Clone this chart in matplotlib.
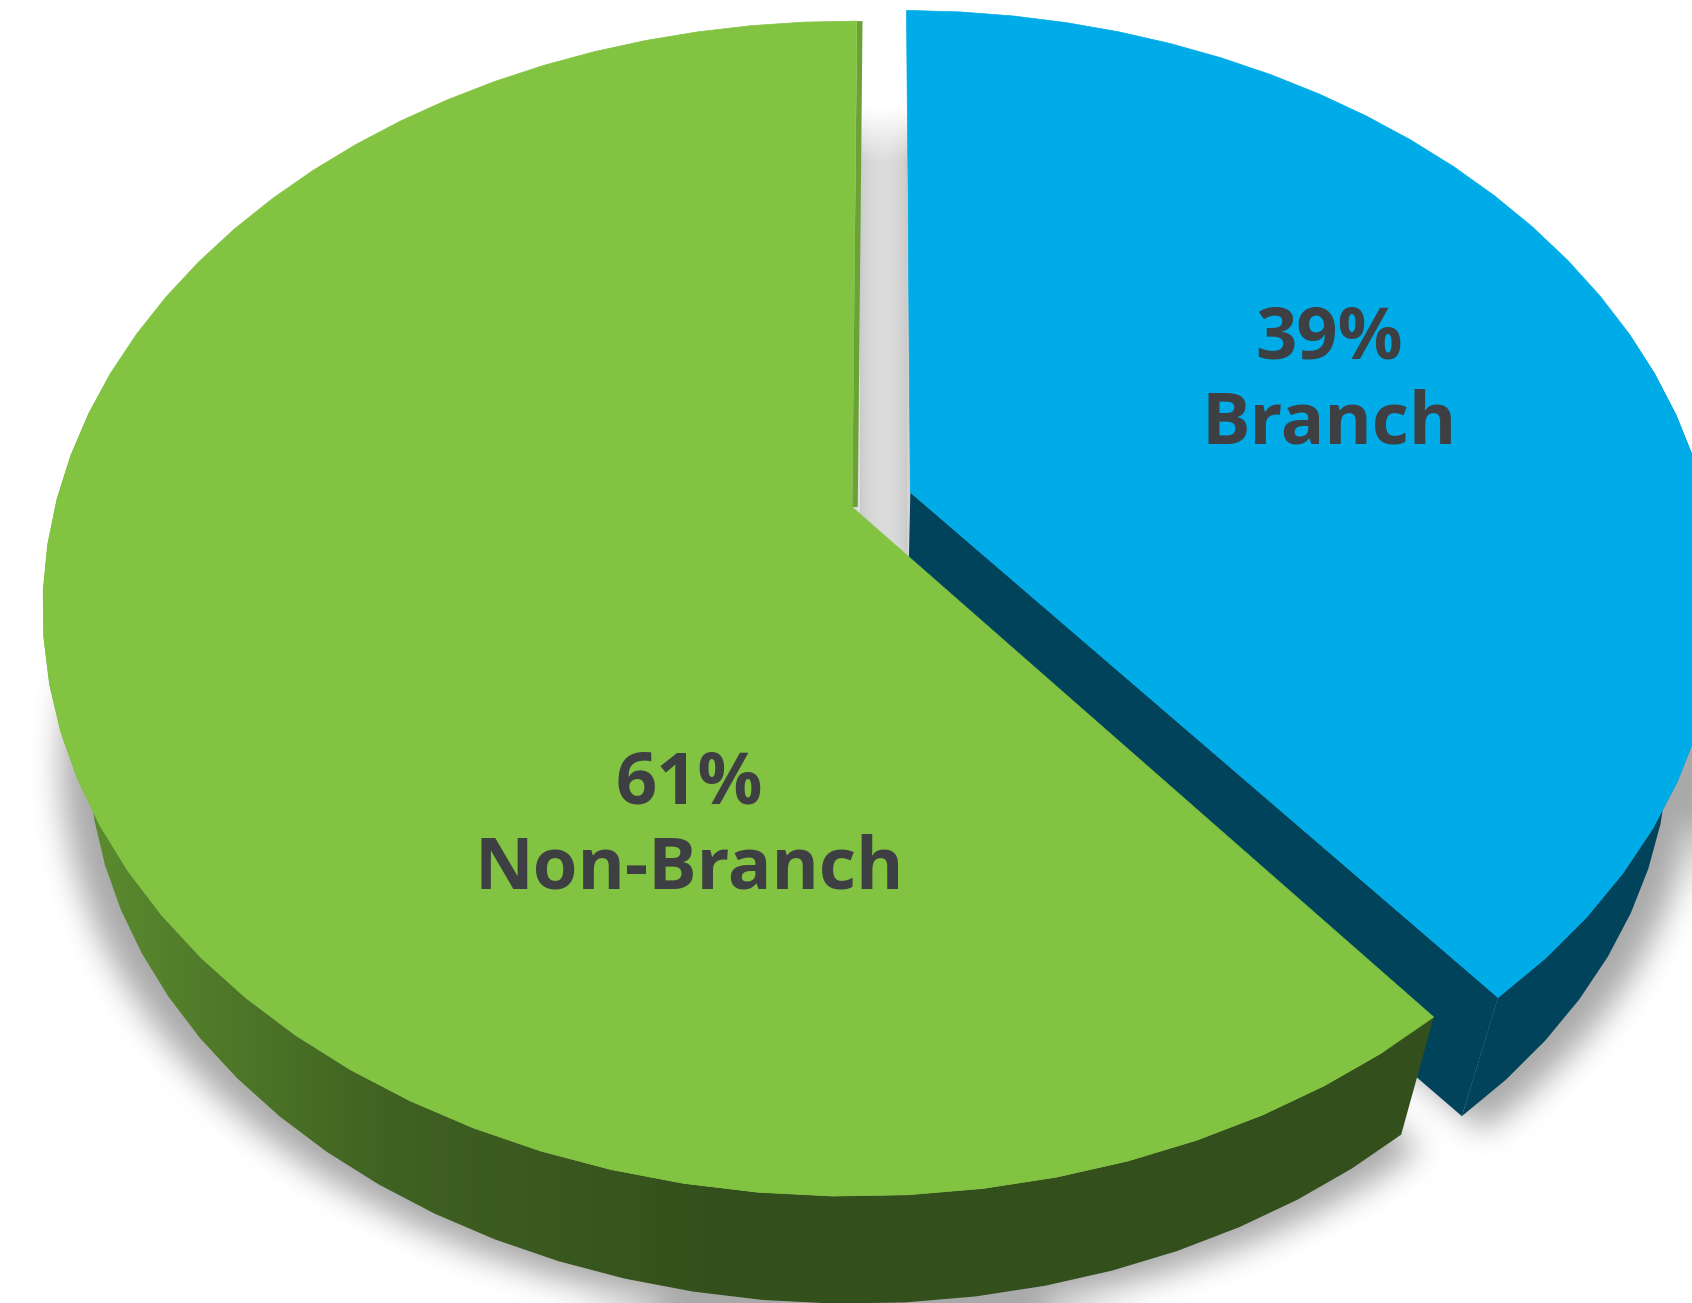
import numpy as np
import matplotlib

matplotlib.use("Agg")
import matplotlib.pyplot as plt
from matplotlib.colors import LinearSegmentedColormap
from matplotlib.patches import Polygon
from matplotlib.path import Path

# data
labels = ["Non-Branch", "Branch"]
shares = [61, 39]
explode = [0.0, 0.078]

# styling
top_colors = ["#82c341", "#00ace7"]
wall_colors = ["#334f1c", "#00435a"]
wall_light = "#5e8f30"
edge_green = "#6aa236"
text_color = "#3e3f42"
start_angle = 89.6
facet_deg = 4.5
label_r = 0.57
label_angles = [251.0, 17.0]

W, H = 1692, 1303
CX, CY = 852.0, 507.0           # projected pie centre (px)
AX_, AY_, K = 797.0, 570.0, 0.173  # perspective of the top plane
VP_Y = CY + 2609.0              # vanishing point of the vertical edges
LAM = 0.944                     # bottom face shrink toward vanishing point


def project(u, v):
    w = 1.0 + K * v
    return CX + AX_ * u / w, CY - AY_ * v / w


def drop(x, y):
    return CX + (x - CX) * LAM, VP_Y + (y - VP_Y) * LAM


def box_blur(a, r, passes=3):
    for _ in range(passes):
        for axis in (0, 1):
            b = np.moveaxis(a, axis, -1)
            pad = np.pad(b, [(0, 0), (r + 1, r)], mode="edge")
            c = np.cumsum(pad, axis=-1)
            b = (c[:, 2 * r + 1:] - c[:, :-2 * r - 1]) / (2 * r + 1)
            a = np.moveaxis(b, -1, axis)
    return a


fig = plt.figure(figsize=(W / 100, H / 100), dpi=100)
ax = fig.add_axes([0, 0, 1, 1])
ax.set_xlim(0, W)
ax.set_ylim(H, 0)
ax.axis("off")

fracs = np.array(shares, dtype=float) / sum(shares)
slices = []
a0 = start_angle
for i, f in enumerate(fracs):
    a1 = a0 + 360.0 * f
    mid = np.radians((a0 + a1) / 2)
    ex, ey = explode[i] * np.cos(mid), explode[i] * np.sin(mid)
    n = max(2, int(round((a1 - a0) / facet_deg)) + 1)
    t = np.radians(np.linspace(a0, a1, n))
    tx, ty = project(ex + np.cos(t), ey + np.sin(t))
    cx, cy = project(ex, ey)
    slices.append(dict(a0=a0, a1=a1, ex=ex, ey=ey, t=t, tx=tx, ty=ty, cx=cx, cy=cy))
    a0 = a1

# soft drop shadow of the bottom faces
step = 2
gx, gy = np.meshgrid(np.arange(0, W, step) + step / 2, np.arange(0, H, step) + step / 2)
pts = np.column_stack([gx.ravel(), gy.ravel()])
mask = np.zeros(gx.size, dtype=bool)
for s in slices:
    px = np.concatenate([[s["cx"]], s["tx"]])
    py = np.concatenate([[s["cy"]], s["ty"]])
    bx, by = drop(px, py)
    bx = CX + (bx - CX) * 1.035
    by = by + 16
    mask |= Path(np.column_stack([bx, by])).contains_points(pts)
shadow = box_blur(mask.reshape(gx.shape).astype(float), 7)
rgba = np.zeros(shadow.shape + (4,))
rgba[..., 3] = 0.34 * shadow
ax.imshow(rgba, extent=(0, W, H, 0), zorder=0, interpolation="bilinear")

# grey band in the gap between the slices
green, blue = slices
gap_x0 = green["tx"][0] + 3
gap_x1 = blue["tx"][-1]
_, gap_top = project(0, 0.80)
gap_bot = green["cy"] + 60
xs = np.linspace(0, 1, 60)
prof = 0.79 + 0.07 * np.sin(np.pi * xs) ** 0.6
ys = np.linspace(0, 1, 120)
alpha = np.clip(ys / 0.12, 0, 1)
band = np.zeros((ys.size, xs.size, 4))
band[..., :3] = prof[None, :, None]
band[..., 3] = alpha[:, None]
ax.imshow(band, extent=(gap_x0, gap_x1, gap_bot, gap_top), zorder=1, aspect="auto")

# walls
for i, s in enumerate(slices):
    t = s["t"]
    front = np.sin(t) < 0.3
    wx, wy = s["tx"][front], s["ty"][front]
    bx, by = drop(wx, wy)
    wall = np.column_stack([np.concatenate([wx, bx[::-1]]), np.concatenate([wy, by[::-1]])])
    # radial face at the start edge
    if np.sin(np.radians(s["a0"] - 90)) < -0.05:
        qx = np.array([s["cx"], s["tx"][0]])
        qy = np.array([s["cy"], s["ty"][0]])
        dx, dy = drop(qx, qy)
        face = np.column_stack([np.concatenate([qx, dx[::-1]]), np.concatenate([qy, dy[::-1]])])
        ax.add_patch(Polygon(face, closed=True, fc=wall_colors[i], ec="none", zorder=2))
    if i == 0:
        patch = Polygon(wall, closed=True, fc="none", ec="none", zorder=3)
        ax.add_patch(patch)
        x_light = wall[:, 0].min() + 15
        x_dark = CX - 120
        grad = np.clip((np.arange(W) - x_light) / (x_dark - x_light), 0, 1)
        cmap = LinearSegmentedColormap.from_list("wall", [wall_light, "#3f6121", wall_colors[0]])
        im = ax.imshow(grad[None, :], cmap=cmap, extent=(0, W, H, 0), aspect="auto",
                       zorder=3, vmin=0, vmax=1)
        im.set_clip_path(patch)
    else:
        ax.add_patch(Polygon(wall, closed=True, fc=wall_colors[i], ec="none", zorder=2))

# tops
for i, s in enumerate(slices):
    poly = np.column_stack([np.concatenate([[s["cx"]], s["tx"]]),
                            np.concatenate([[s["cy"]], s["ty"]])])
    ax.add_patch(Polygon(poly, closed=True, fc=top_colors[i], ec=top_colors[i], lw=0.5,
                         zorder=4 + (1 - i)))

# thin visible face along the green's vertical edge
ax.plot([green["cx"] + 3, green["tx"][0] + 3], [green["cy"], green["ty"][0]],
        color=edge_green, lw=4.0, solid_capstyle="butt", zorder=4.5)

# labels
for i, s in enumerate(slices):
    ang = np.radians(label_angles[i])
    lx, ly = project(s["ex"] + label_r * np.cos(ang), s["ey"] + label_r * np.sin(ang))
    kw = dict(ha="center", va="baseline", color=text_color, fontsize=52,
              fontweight="bold", family=["Open Sans", "DejaVu Sans"], zorder=10)
    ax.text(lx, ly - 42, f"{shares[i]}%", **kw)
    ax.text(lx, ly + 43, labels[i], **kw)

fig.savefig("out.png", dpi=100, facecolor="white")
